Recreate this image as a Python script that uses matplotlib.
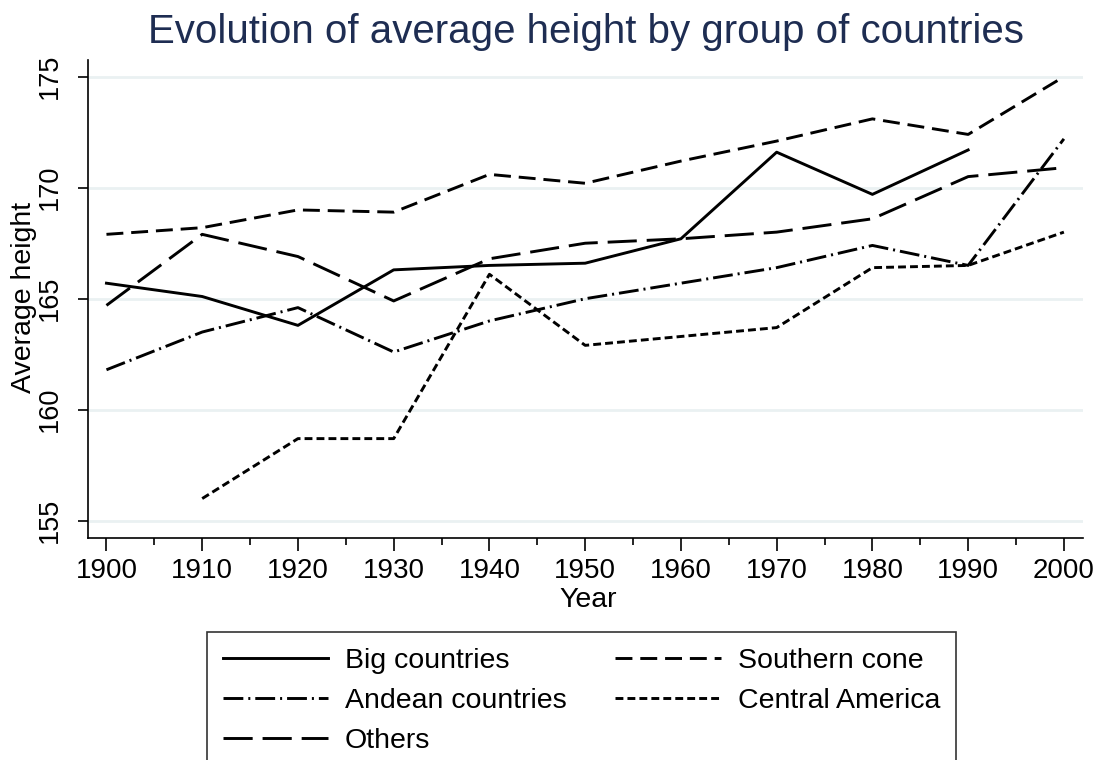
import matplotlib
matplotlib.use('Agg')
import matplotlib.pyplot as plt

# data
years = [1900, 1910, 1920, 1930, 1940, 1950, 1960, 1970, 1980, 1990, 2000]
big_countries = [165.7, 165.1, 163.8, 166.3, 166.5, 166.6, 167.7, 171.6, 169.7, 171.7, None]
southern_cone = [167.9, 168.2, 169.0, 168.9, 170.6, 170.2, 171.2, 172.1, 173.1, 172.4, 175.0]
andean = [161.8, 163.5, 164.6, 162.6, 164.0, 165.0, 165.7, 166.4, 167.4, 166.5, 172.2]
central_america = [None, 156.0, 158.7, 158.7, 166.1, 162.9, 163.3, 163.7, 166.4, 166.5, 168.0]
others = [164.7, 167.9, 166.9, 164.9, 166.8, 167.5, 167.7, 168.0, 168.6, 170.5, 170.9]

labels = ['Big countries', 'Southern cone', 'Andean countries', 'Central America', 'Others']
series = [big_countries, southern_cone, andean, central_america, others]
styles = ['-', (0, (5.8, 2.7)), (0, (6.8, 1.7, 0.7, 1.7)), (0, (2.7, 1.4)), (0, (10, 3.4))]

plt.rcParams['font.family'] = ['Liberation Sans', 'DejaVu Sans']

fig = plt.figure(figsize=(11.02, 7.6), dpi=100)
ax = fig.add_axes([0.0801, 0.2917, 0.9027, 0.6293])

handles = {}
for vals, lab, ls in zip(series, labels, styles):
    xs = [y for y, v in zip(years, vals) if v is not None]
    ys = [v for v in vals if v is not None]
    h, = ax.plot(xs, ys, color='black', linestyle=ls, linewidth=2.1, label=lab)
    handles[lab] = h

ax.set_xlim(1898.1, 2002)
ax.set_ylim(154.21, 175.75)
ax.set_xticks(years)
ax.set_xticks(range(1905, 2000, 10), minor=True)
ax.set_yticks([155, 160, 165, 170, 175])
ax.grid(axis='y', color='#eaf1f2', linewidth=2)
ax.set_axisbelow(True)
for s in ['top', 'right']:
    ax.spines[s].set_visible(False)
ax.spines['left'].set_linewidth(1.2)
ax.spines['bottom'].set_linewidth(1.2)
ax.tick_params(axis='x', which='major', length=9, width=1.2, labelsize=20, pad=5)
ax.tick_params(axis='x', which='minor', length=5, width=1.2)
ax.tick_params(axis='y', length=7.5, width=1.2, labelsize=19.5, pad=10.5)
for t in ax.get_yticklabels():
    t.set_rotation(90)
    t.set_verticalalignment('center')

fig.text(586 / 1102, 1 - 43 / 760, 'Evolution of average height by group of countries',
         ha='center', va='baseline', fontsize=29, color='#1e2d52')
fig.text(24 / 1102, 1 - 297 / 760, 'Average height', rotation=90,
         ha='center', va='center', fontsize=20.5)
fig.text(588 / 1102, 1 - 600 / 760, 'Year', ha='center', va='center', fontsize=20.5)

# legend fills row by row in the reference, matplotlib fills columns
order = ['Big countries', 'Andean countries', 'Others', 'Southern cone', 'Central America']
leg = fig.legend(handles=[handles[k] for k in order], loc='upper left', ncol=2,
                 bbox_to_anchor=(207 / 1102, 1 - 632 / 760), borderaxespad=0,
                 fontsize=20.5, frameon=True, fancybox=False, edgecolor='black',
                 handlelength=3.7, handletextpad=0.6, columnspacing=1.7,
                 borderpad=0.55, labelspacing=0.5)
leg.get_frame().set_linewidth(1.2)

plt.savefig('out.png', dpi=100)
